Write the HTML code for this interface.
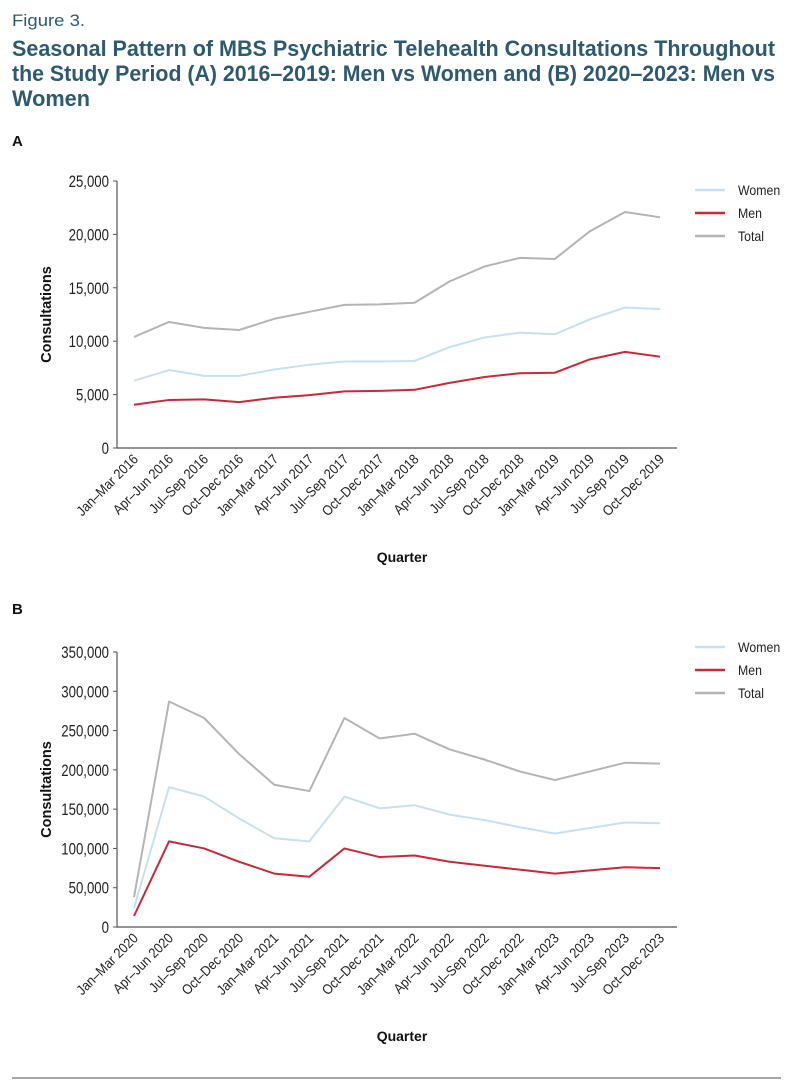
<!DOCTYPE html>
<html><head><meta charset="utf-8"><style>
body{margin:0;background:#fff;}
svg{display:block;font-family:"Liberation Sans",sans-serif;}
</style></head><body>
<svg id="fig" width="793" height="1092" viewBox="0 0 793 1092">
<text x="12" y="26" font-size="17" fill="#2e5a70" textLength="73" lengthAdjust="spacingAndGlyphs">Figure 3.</text>
<g font-size="22" font-weight="bold" fill="#2e5a70">
<text x="12" y="56" textLength="763" lengthAdjust="spacingAndGlyphs">Seasonal Pattern of MBS Psychiatric Telehealth Consultations Throughout</text>
<text x="12" y="81" textLength="763" lengthAdjust="spacingAndGlyphs">the Study Period (A) 2016–2019: Men vs Women and (B) 2020–2023: Men vs</text>
<text x="12" y="106" textLength="78" lengthAdjust="spacingAndGlyphs">Women</text>
</g>
<text x="12" y="146" font-size="15" font-weight="bold" fill="#111">A</text>
<text x="12" y="614" font-size="15" font-weight="bold" fill="#111">B</text>
<line x1="12" y1="1078" x2="781" y2="1078" stroke="#888" stroke-width="1.5"/>
<g id="chartA"></g>
<g id="chartB"></g>
</svg>
<script>
const catsA = ["Jan–Mar 2016","Apr–Jun 2016","Jul–Sep 2016","Oct–Dec 2016","Jan–Mar 2017","Apr–Jun 2017","Jul–Sep 2017","Oct–Dec 2017","Jan–Mar 2018","Apr–Jun 2018","Jul–Sep 2018","Oct–Dec 2018","Jan–Mar 2019","Apr–Jun 2019","Jul–Sep 2019","Oct–Dec 2019"];
const womenA = [6300,7300,6750,6750,7350,7800,8100,8100,8150,9450,10350,10800,10650,12050,13150,13000];
const menA = [4050,4500,4550,4300,4700,4950,5300,5350,5450,6100,6650,7000,7050,8300,9000,8550];
const totalA = [10400,11800,11250,11050,12100,12750,13400,13450,13600,15600,17000,17800,17700,20300,22100,21600];
const ticksA = [0,5000,10000,15000,20000,25000];
const catsB = ["Jan–Mar 2020","Apr–Jun 2020","Jul–Sep 2020","Oct–Dec 2020","Jan–Mar 2021","Apr–Jun 2021","Jul–Sep 2021","Oct–Dec 2021","Jan–Mar 2022","Apr–Jun 2022","Jul–Sep 2022","Oct–Dec 2022","Jan–Mar 2023","Apr–Jun 2023","Jul–Sep 2023","Oct–Dec 2023"];
const womenB = [24000,178000,166000,138000,113000,109000,166000,151000,155000,143000,136000,127000,119000,126000,133000,132000];
const menB = [14000,109000,100000,83000,68000,64000,100000,89000,91000,83000,78000,73000,68000,72000,76000,75000];
const totalB = [38000,287000,266000,220000,181000,173000,266000,240000,246000,226000,213000,198000,187000,198000,209000,208000];
const ticksB = [0,50000,100000,150000,200000,250000,300000,350000];

const NS="http://www.w3.org/2000/svg";
function mk(tag,attrs,parent){const e=document.createElementNS(NS,tag);for(const k in attrs)e.setAttribute(k,attrs[k]);parent.appendChild(e);return e;}
function draw(gid,cats,series,ticks,y0,y1,legY){
  const g=document.getElementById(gid);
  const xL=117,xR=677,x0=134,step=35.07;
  const vmax=ticks[ticks.length-1];
  const xs=i=>x0+i*step;
  const ys=v=>y0-(v/vmax)*(y0-y1);
  const ax=mk('path',{d:`M${xL} ${y1}V${y0}H${xR}`,fill:'none',stroke:'#555','stroke-width':1.2},g);
  
  
  ticks.forEach(t=>{
    const y=ys(t);
    const tk=mk('line',{x1:xL-4,x2:xL,y1:y,y2:y,stroke:'#555'},g);
    
    
    const tx=mk('text',{x:xL-8,y:y+6,'text-anchor':'end','font-size':16.5,fill:'#222',transform:`translate(${xL-8} 0) scale(0.8 1) translate(${-(xL-8)} 0)`},g);
    tx.textContent=t.toLocaleString('en-US');
    
    
  });
  cats.forEach((c,i)=>{
    const x=xs(i);
    const tx=mk('text',{x:x+5,y:y0+12,'text-anchor':'end','font-size':14,fill:'#222',transform:`rotate(-45 ${x+5} ${y0+12}) translate(${x+5} 0) scale(0.9 1) translate(${-(x+5)} 0)`},g);
    tx.textContent=c;
    
    
  });
  const yt=mk('text',{x:0,y:0,'text-anchor':'middle','font-size':14.5,'font-weight':'bold',fill:'#111',transform:`translate(51 ${(y0+y1)/2}) rotate(-90)`},g);
  yt.textContent='Consultations';
  
  
  const xt=mk('text',{x:402,y:y0+114,'text-anchor':'middle','font-size':14,'font-weight':'bold',fill:'#111'},g);
  xt.textContent='Quarter';
  
  
  series.forEach((s,k)=>{
    const p=mk('polyline',{points:s.v.map((v,i)=>xs(i)+','+ys(v)).join(' '),fill:'none',stroke:s.c,'stroke-width':2,'stroke-linejoin':'round'},g);
    
    
    const ly=legY+k*23;
    const l=mk('line',{x1:695,x2:725,y1:ly,y2:ly,stroke:s.c,'stroke-width':2.5},g);
    
    
    const lt=mk('text',{x:738,y:ly+5,'font-size':14,fill:'#222',transform:`translate(738 0) scale(0.88 1) translate(-738 0)`},g);
    lt.textContent=s.n;
    
    
  });
}
draw('chartA',catsA,[{n:'Women',v:womenA,c:'#c5e0f3'},{n:'Men',v:menA,c:'#c8283a'},{n:'Total',v:totalA,c:'#b4b4b4'}],ticksA,448,181,190);
draw('chartB',catsB,[{n:'Women',v:womenB,c:'#c5e0f3'},{n:'Men',v:menB,c:'#c8283a'},{n:'Total',v:totalB,c:'#b4b4b4'}],ticksB,927,652,647);
</script>
</body></html>
